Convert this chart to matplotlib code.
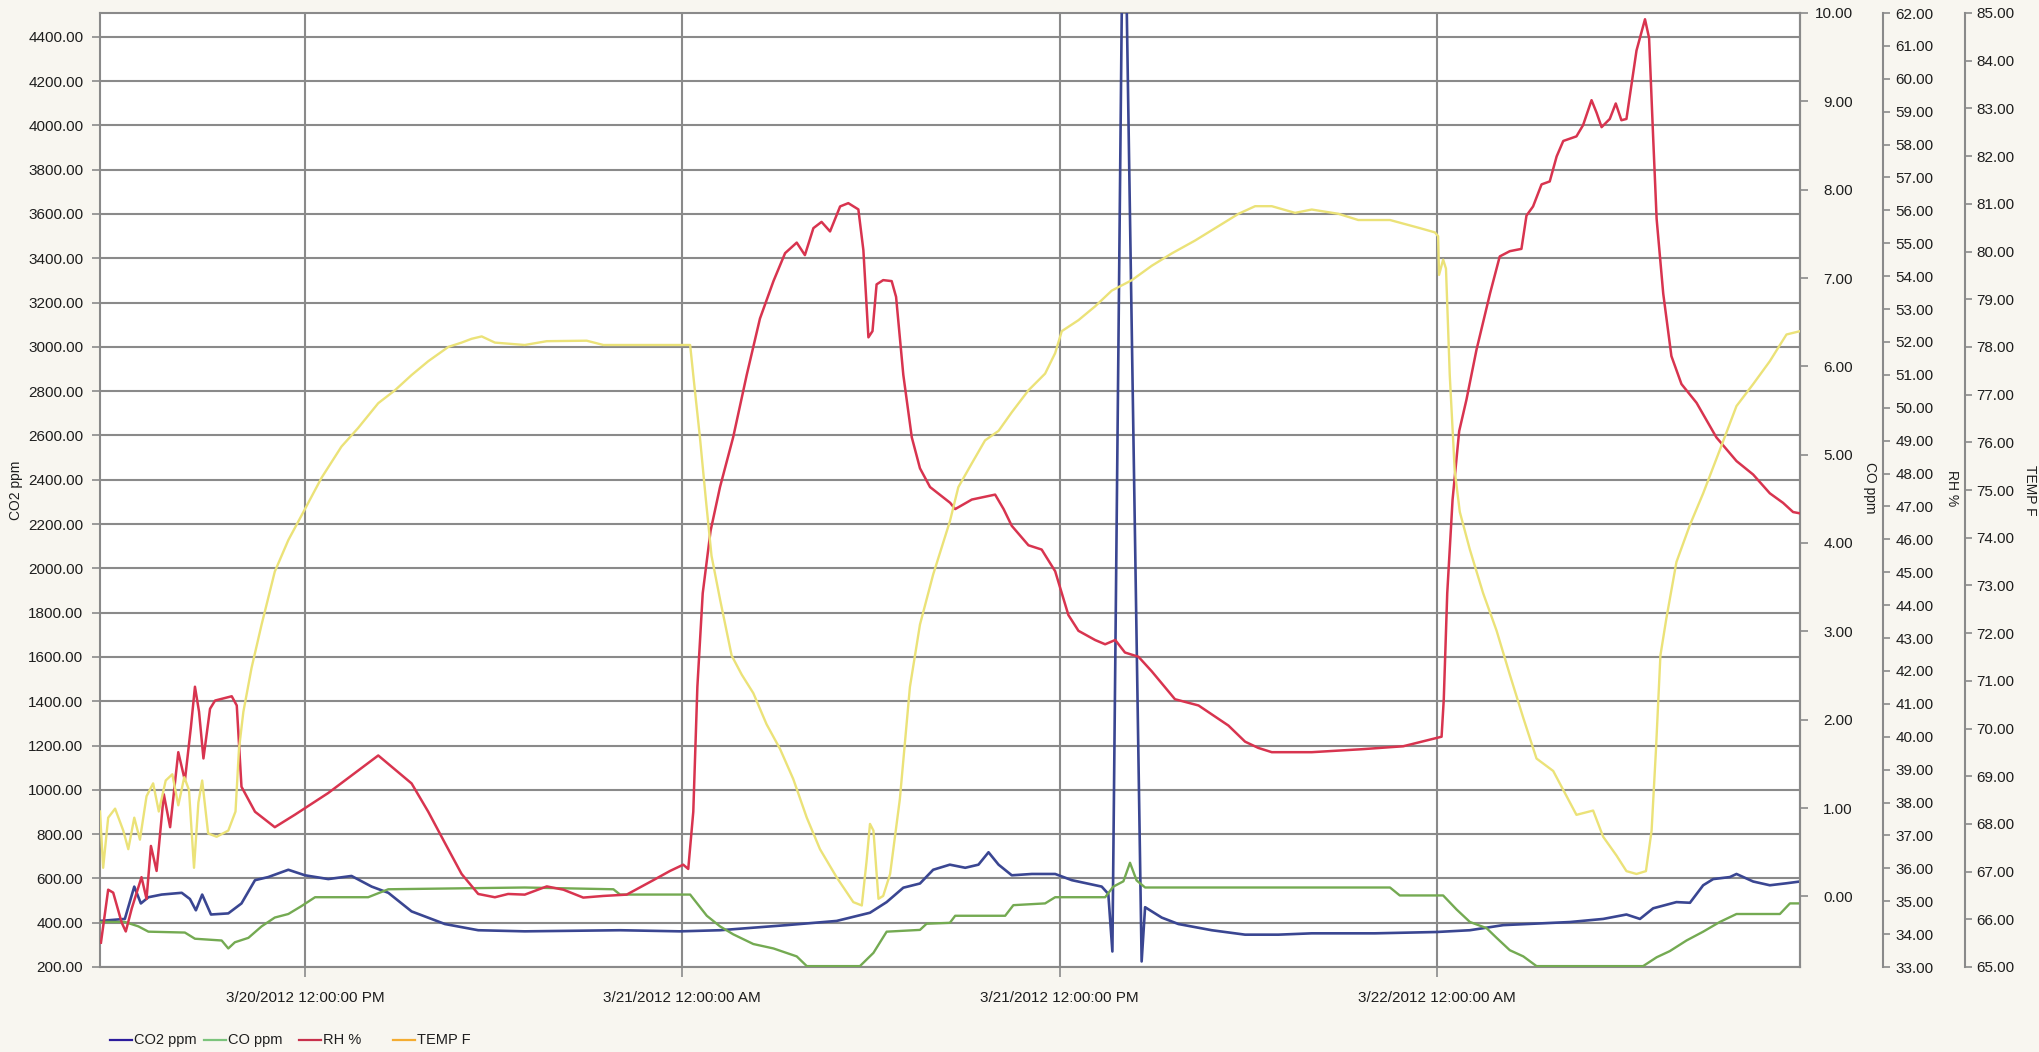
import matplotlib
matplotlib.use("Agg")
import matplotlib.pyplot as plt
from matplotlib.lines import Line2D
from matplotlib.ticker import FixedLocator, FormatStrFormatter

# time axis: hours since 3/20/2012 00:00
co2_hours = [5.48, 6.27, 6.57, 6.78, 7.02, 7.44, 8.08, 8.34, 8.53, 8.73, 9.01, 9.56,
             9.98, 10.41, 10.83, 11.47, 12.0, 12.74, 13.48, 14.12, 14.65, 15.39,
             16.45, 17.51, 18.99, 22.02, 23.93, 25.2, 27.32, 28.91, 29.97, 30.5,
             31.03, 31.56, 31.98, 32.51, 33.0, 33.42, 33.74, 34.06, 34.48, 35.12,
             35.86, 36.39, 37.34, 37.55, 37.68, 38.04, 38.61, 38.72, 39.25, 39.78,
             40.84, 41.9, 42.96, 44.02, 46.03, 47.99, 49.05, 50.11, 52.23, 53.29,
             54.03, 54.46, 54.88, 55.62, 56.05, 56.47, 56.79, 57.32, 57.53, 58.06,
             58.59, 59.12, 59.55]
co2_ppm = [408, 417, 563, 487, 515, 527, 535, 507, 456, 527, 437, 442,
           487, 592, 606, 639, 614, 597, 611, 563, 535, 451,
           394, 366, 361, 366, 361, 366, 389, 408, 445, 493,
           558, 577, 639, 662, 648, 662, 718, 662, 614, 620,
           620, 592, 563, 530, 270, 5400, 225, 470, 423, 394,
           366, 346, 346, 352, 352, 358, 366, 389, 403, 417,
           437, 417, 465, 493, 490, 569, 597, 606, 620, 586,
           569, 578, 586]

co_hours = [5.48, 6.27, 6.7, 7.02, 8.18, 8.5, 9.35, 9.56, 9.77, 10.2, 10.62, 11.04,
            11.47, 11.89, 12.32, 14.01, 14.65, 18.99, 21.81, 22.02, 24.25, 24.78,
            25.2, 25.62, 26.26, 26.9, 27.64, 27.96, 29.65, 30.08, 30.5, 31.56,
            31.77, 32.51, 32.68, 34.27, 34.53, 35.54, 35.86, 37.45, 37.71, 38.03,
            38.24, 38.45, 38.72, 46.51, 46.82, 48.2, 48.63, 49.05, 49.58, 49.9,
            50.32, 50.75, 51.17, 54.56, 54.99, 55.41, 55.94, 56.47, 57.0, 57.53,
            58.91, 59.23, 59.55]
co_ppm = [-0.29, -0.29, -0.34, -0.40, -0.41, -0.48, -0.50, -0.59, -0.52, -0.47, -0.34, -0.24,
          -0.20, -0.11, -0.01, -0.01, 0.08, 0.10, 0.08, 0.02, 0.02, -0.22,
          -0.34, -0.43, -0.54, -0.59, -0.68, -0.79, -0.79, -0.64, -0.40, -0.38,
          -0.31, -0.30, -0.22, -0.22, -0.10, -0.08, -0.01, -0.01, 0.11, 0.17,
          0.38, 0.18, 0.10, 0.10, 0.01, 0.01, -0.15, -0.29, -0.36, -0.47,
          -0.61, -0.68, -0.79, -0.79, -0.69, -0.62, -0.50, -0.40, -0.29, -0.20,
          -0.20, -0.08, -0.08]

rh_hours = [5.51, 5.74, 5.9, 6.17, 6.3, 6.49, 6.8, 6.96, 7.1, 7.28, 7.51, 7.71,
            7.97, 8.18, 8.37, 8.5, 8.63, 8.77, 8.98, 9.14, 9.67, 9.83, 9.98,
            10.41, 11.04, 11.68, 12.74, 14.33, 15.39, 15.92, 16.45, 16.98, 17.51,
            18.04, 18.46, 18.99, 19.69, 20.22, 20.85, 21.49, 22.23, 23.08, 23.61,
            24.03, 24.19, 24.35, 24.48, 24.65, 24.9, 25.2, 25.62, 26.05, 26.47,
            26.9, 27.27, 27.64, 27.9, 28.17, 28.43, 28.7, 29.02, 29.28, 29.6,
            29.76, 29.92, 30.05, 30.18, 30.39, 30.66, 30.8, 31.03, 31.3, 31.56,
            31.88, 32.52, 32.68, 33.21, 33.95, 34.22, 34.48, 35.01, 35.43, 35.86,
            36.28, 36.6, 37.13, 37.45, 37.77, 38.08, 38.51, 38.93, 39.67, 40.42,
            41.37, 41.9, 42.32, 42.75, 44.02, 45.61, 46.93, 47.99, 48.15, 48.22,
            48.33, 48.5, 48.71, 48.94, 49.26, 49.69, 50.0, 50.32, 50.69, 50.85,
            51.06, 51.33, 51.59, 51.81, 52.02, 52.44, 52.65, 52.92, 53.08, 53.24,
            53.5, 53.69, 53.87, 54.03, 54.35, 54.62, 54.75, 54.88, 54.99, 55.2,
            55.46, 55.78, 56.26, 56.89, 57.53, 58.06, 58.59, 59.01, 59.33, 59.55]
rh_pct = [33.74, 35.35, 35.26, 34.35, 34.08, 34.78, 35.73, 35.07, 36.68, 35.92, 38.25, 37.25,
          39.53, 38.67, 40.28, 41.52, 40.76, 39.34, 40.85, 41.1, 41.23, 40.95, 38.48,
          37.72, 37.25, 37.63, 38.29, 39.43, 38.58, 37.72, 36.77, 35.83, 35.22,
          35.12, 35.22, 35.2, 35.45, 35.35, 35.11, 35.16, 35.2, 35.64, 35.92,
          36.11, 35.98, 37.72, 41.52, 44.36, 46.26, 47.59, 49.11, 51.0, 52.71,
          53.85, 54.7, 55.02, 54.64, 55.46, 55.65, 55.36, 56.12, 56.22, 56.03,
          54.79, 52.14, 52.33, 53.75, 53.88, 53.85, 53.37, 51.0, 49.1, 48.16,
          47.59, 47.11, 46.92, 47.21, 47.36, 46.92, 46.41, 45.82, 45.69, 45.03,
          43.7, 43.22, 42.94, 42.81, 42.94, 42.56, 42.43, 41.99, 41.14, 40.95,
          40.34, 39.85, 39.66, 39.53, 39.53, 39.62, 39.71, 39.96, 40.0, 41.14,
          44.36, 47.21, 49.29, 50.24, 51.76, 53.47, 54.6, 54.76, 54.83, 55.84,
          56.12, 56.79, 56.88, 57.64, 58.11, 58.25, 58.59, 59.35, 58.97, 58.53,
          58.78, 59.25, 58.74, 58.78, 60.86, 61.81, 61.24, 58.21, 55.74, 53.47,
          51.57, 50.72, 50.15, 49.1, 48.38, 47.97, 47.4, 47.11, 46.83, 46.79]

temp_hours = [5.48, 5.58, 5.74, 5.96, 6.22, 6.38, 6.57, 6.75, 6.96, 7.17, 7.35, 7.57,
              7.78, 7.97, 8.16, 8.31, 8.47, 8.61, 8.73, 8.92, 9.19, 9.56, 9.79,
              9.9, 10.04, 10.3, 10.62, 11.04, 11.47, 11.95, 12.53, 13.16, 13.69,
              14.33, 14.86, 15.39, 15.92, 16.56, 16.98, 17.3, 17.62, 18.04, 18.99,
              19.69, 20.96, 21.49, 24.25, 24.37, 24.56, 24.75, 24.93, 25.2, 25.57,
              25.89, 26.26, 26.68, 27.11, 27.53, 27.96, 28.38, 28.91, 29.44, 29.71,
              29.86, 29.97, 30.08, 30.24, 30.39, 30.61, 30.92, 31.24, 31.56, 31.98,
              32.51, 32.78, 33.21, 33.63, 34.06, 34.48, 35.01, 35.54, 35.86, 36.07,
              36.6, 37.13, 37.66, 38.3, 38.93, 39.57, 40.31, 41.05, 41.69, 42.22,
              42.75, 43.49, 44.02, 44.87, 45.5, 46.51, 47.46, 47.94, 48.04, 48.07,
              48.2, 48.29, 48.41, 48.57, 48.73, 49.05, 49.47, 49.9, 50.32, 50.75,
              51.17, 51.7, 52.07, 52.44, 52.97, 53.29, 53.71, 54.03, 54.35, 54.65,
              54.83, 54.97, 55.11, 55.3, 55.62, 56.05, 56.47, 57.0, 57.53, 58.06,
              58.59, 59.12, 59.55]
temp_f = [68.26, 67.08, 68.13, 68.32, 67.86, 67.47, 68.13, 67.67, 68.58, 68.85, 68.26, 68.91,
          69.04, 68.39, 68.98, 68.71, 67.08, 68.45, 68.91, 67.8, 67.73, 67.86, 68.26,
          69.57, 70.35, 71.27, 72.18, 73.29, 73.95, 74.54, 75.26, 75.91, 76.3,
          76.82, 77.09, 77.41, 77.7, 78.0, 78.09, 78.17, 78.22, 78.09, 78.04,
          78.12, 78.13, 78.04, 78.04, 77.28, 76.11, 74.8, 73.62, 72.71, 71.53,
          71.13, 70.74, 70.09, 69.57, 68.94, 68.13, 67.47, 66.88, 66.36, 66.29,
          67.21, 68.0, 67.86, 66.43, 66.49, 66.95, 68.52, 70.87, 72.18, 73.23,
          74.34, 75.06, 75.56, 76.04, 76.24, 76.63, 77.09, 77.44, 77.87, 78.33,
          78.56, 78.85, 79.18, 79.4, 79.7, 79.96, 80.23, 80.53, 80.79, 80.95,
          80.95, 80.81, 80.88, 80.79, 80.66, 80.66, 80.49, 80.4, 80.32, 79.51,
          79.83, 79.64, 77.41, 75.39, 74.54, 73.75, 72.84, 72.05, 71.13, 70.22,
          69.37, 69.11, 68.65, 68.19, 68.28, 67.73, 67.34, 67.01, 66.95, 67.01,
          67.86, 69.57, 71.53, 72.31, 73.49, 74.27, 74.93, 75.84, 76.76, 77.22,
          77.7, 78.26, 78.33]

tick_hours = [12, 24, 36, 48]
tick_labels = ["3/20/2012 12:00:00 PM", "3/21/2012 12:00:00 AM",
               "3/21/2012 12:00:00 PM", "3/22/2012 12:00:00 AM"]

series_names = ["CO2 ppm", "CO ppm", "RH %", "TEMP F"]
line_colors = ["#3a4692", "#74aa52", "#d8344f", "#ebe278"]
legend_colors = ["#2c1c9c", "#7cc47c", "#c8304c", "#f4ac30"]

W, H = 2039, 1052
GRID = "#8a8a8a"
TXT = "#1e1e1e"
FS = 11

plt.rcParams["font.family"] = ["Liberation Sans", "DejaVu Sans"]

fig = plt.figure(figsize=(W / 100, H / 100), dpi=100, facecolor="#f8f6f0")
ax = fig.add_axes([100 / W, 1 - 967 / H, 1700 / W, 954 / H])
ax.set_facecolor("white")

ax_co = ax.twinx()
ax_rh = ax.twinx()
ax_t = ax.twinx()
ax_rh.spines["right"].set_position(("axes", (1883 - 100) / 1700))
ax_t.spines["right"].set_position(("axes", (1965 - 100) / 1700))

ax_t.plot(temp_hours, temp_f, color=line_colors[3], lw=1.7, zorder=2)
ax_rh.plot(rh_hours, rh_pct, color=line_colors[2], lw=1.8, zorder=2)
ax_co.plot(co_hours, co_ppm, color=line_colors[1], lw=1.7, zorder=2)
ax.plot(co2_hours, co2_ppm, color=line_colors[0], lw=1.9, zorder=3)

x_min, x_max = 5.48, 59.55
for a in (ax, ax_co, ax_rh, ax_t):
    a.set_xlim(x_min, x_max)

# CO2 (left)
ax.set_ylim(200, 4507)
ax.yaxis.set_major_locator(FixedLocator(range(200, 4401, 200)))
ax.yaxis.set_major_formatter(FormatStrFormatter("%.2f"))
ax.xaxis.set_major_locator(FixedLocator(tick_hours))
ax.set_xticklabels(tick_labels)
ax.grid(True, color=GRID, lw=1.5)
ax.set_axisbelow(True)
ax.tick_params(axis="y", direction="out", length=6, width=1.2, color=GRID,
               labelsize=FS, labelcolor=TXT, pad=6)
ax.tick_params(axis="x", direction="out", length=7, width=1.2, color=GRID,
               labelsize=FS, labelcolor=TXT, pad=10)
for s in ax.spines.values():
    s.set_color(GRID)
    s.set_linewidth(1.5)

# CO (first right axis)
ax_co.set_ylim(-0.8, 10)
ax_co.yaxis.set_major_locator(FixedLocator(range(0, 11)))
ax_co.yaxis.set_major_formatter(FormatStrFormatter("%.2f"))
ax_co.tick_params(axis="y", direction="out", length=6, width=1.2, color=GRID,
                  labelsize=FS, labelcolor=TXT, pad=32)
plt.setp(ax_co.get_yticklabels(), ha="right")

# RH
ax_rh.set_ylim(33, 62)
ax_rh.yaxis.set_major_locator(FixedLocator(range(33, 63)))
ax_rh.yaxis.set_major_formatter(FormatStrFormatter("%.2f"))
ax_rh.tick_params(axis="y", direction="out", length=5, width=1.2, color=GRID,
                  labelsize=FS, labelcolor=TXT, pad=4)

# TEMP
ax_t.set_ylim(65, 85)
ax_t.yaxis.set_major_locator(FixedLocator(range(65, 86)))
ax_t.yaxis.set_major_formatter(FormatStrFormatter("%.2f"))
ax_t.tick_params(axis="y", direction="out", length=5, width=1.2, color=GRID,
                 labelsize=FS, labelcolor=TXT, pad=3)

for a in (ax_co, ax_rh, ax_t):
    for side in ("left", "top", "bottom"):
        a.spines[side].set_visible(False)
    a.spines["right"].set_color(GRID)
    a.spines["right"].set_linewidth(1.5)

# axis titles
fig.text(16 / W, 1 - 490 / H, "CO2 ppm", rotation=90, ha="center", va="center",
         fontsize=10, color=TXT)
fig.text(1870 / W, 1 - 488 / H, "CO ppm", rotation=270, ha="center", va="center",
         fontsize=10, color=TXT)
fig.text(1952 / W, 1 - 488 / H, "RH %", rotation=270, ha="center", va="center",
         fontsize=10, color=TXT)
fig.text(2030 / W, 1 - 490 / H, "TEMP F", rotation=270, ha="center", va="center",
         fontsize=10, color=TXT)

# legend row along the bottom
for i, (name, col) in enumerate(zip(series_names, legend_colors)):
    x0 = 110 + 94.3 * i
    y0 = 1 - 1040 / H
    fig.add_artist(Line2D([x0 / W, (x0 + 22) / W], [y0, y0], color=col, lw=1.6))
    fig.text((x0 + 24) / W, y0, name, ha="left", va="center", fontsize=10.5, color=TXT)

fig.savefig("out.png", dpi=100, facecolor=fig.get_facecolor())
